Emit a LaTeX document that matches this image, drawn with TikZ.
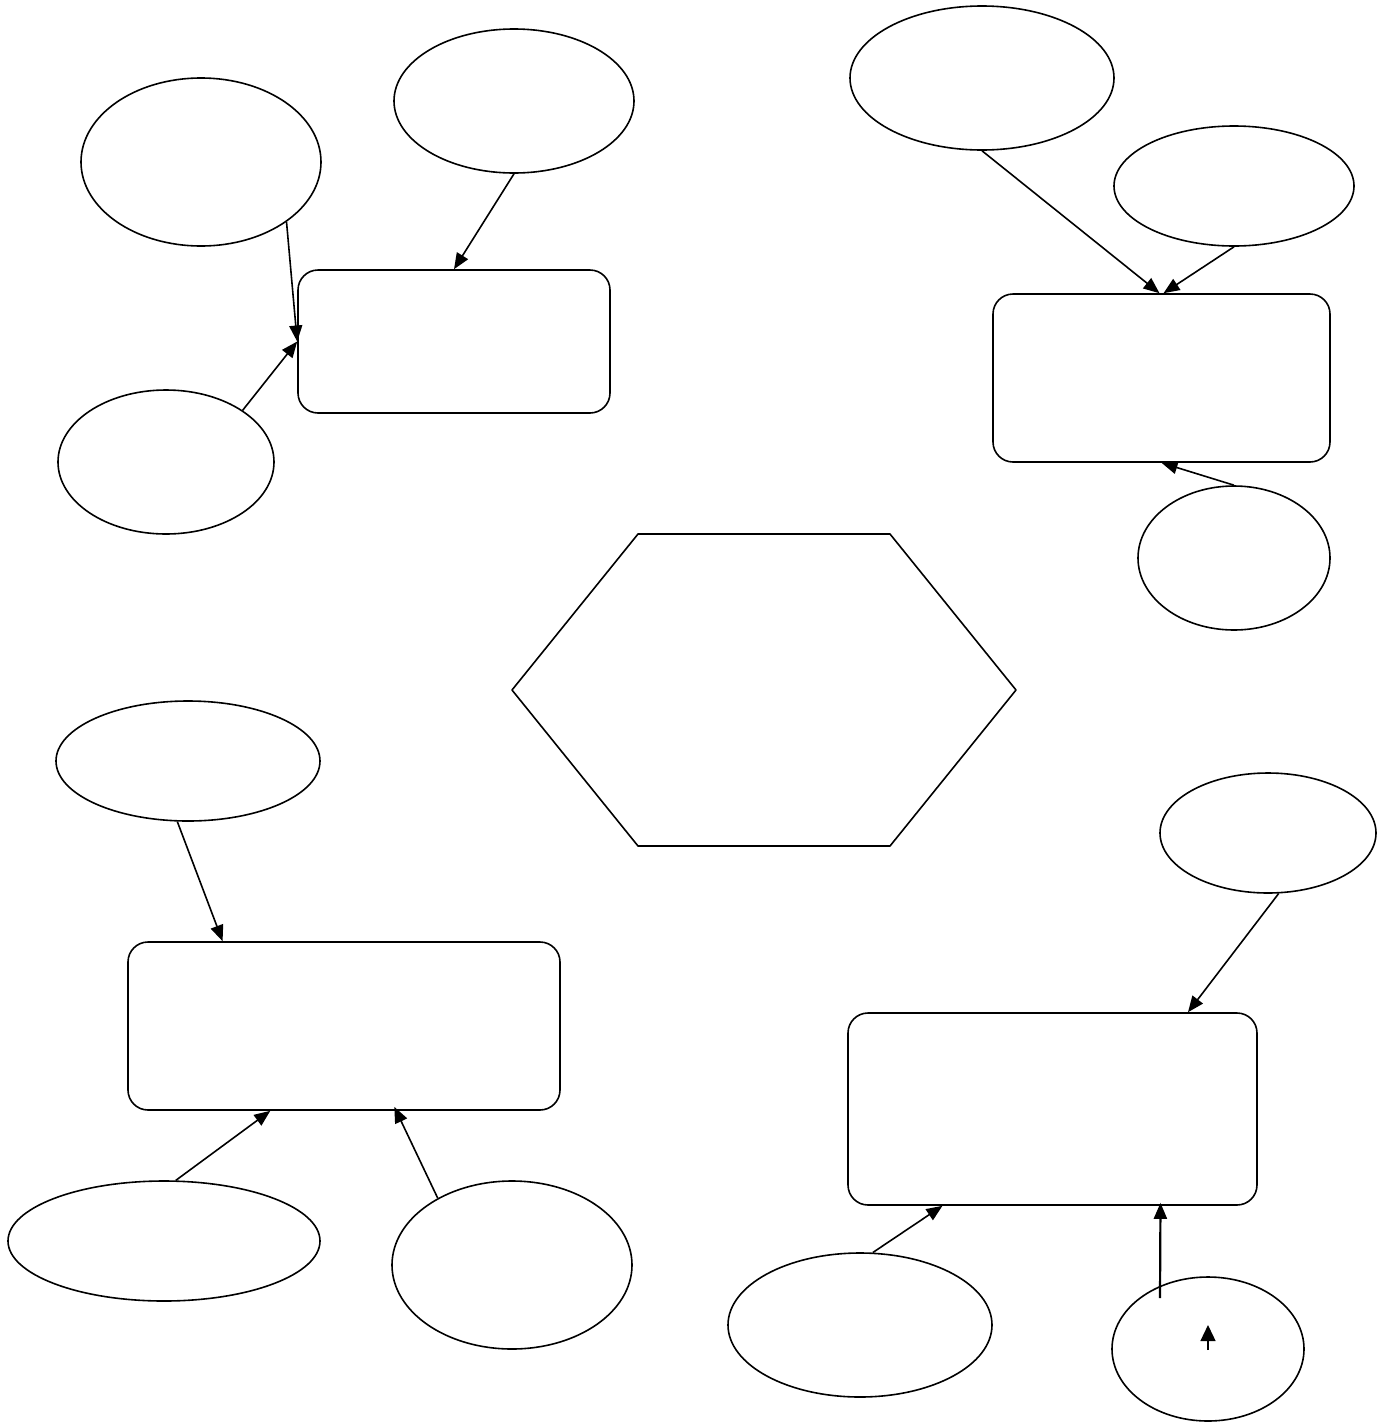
\documentclass[tikz,border=0pt]{standalone}
\usetikzlibrary{shapes.geometric,arrows.meta,calc}
\begin{document}
\begin{tikzpicture}[x=1pt,y=-1pt,line join=round,line width=1.6pt,>={Triangle[length=16pt,width=13pt]}]
\tikzset{oval/.style={draw,ellipse,inner sep=0pt},
box/.style={draw,rectangle,rounded corners=20pt,inner sep=0pt}}
\useasboundingbox (0,0) rectangle (1382,1422);
% top left
\node[box,minimum width=312,minimum height=143] (bA) at (454,341.5) {};
\node[oval,minimum width=240,minimum height=168] (e1) at (201,162) {};
\node[oval,minimum width=240,minimum height=144] (e2) at (514,101) {};
\node[oval,minimum width=216,minimum height=144] (e3) at (166,462) {};
\draw[->] (e1.-35)--(bA.west);
\draw[->] (e2.south)--(bA.north);
\draw[->] (e3.34)--(bA.west);
% top right
\node[box,minimum width=337,minimum height=168] (bB) at (1161.5,378) {};
\node[oval,minimum width=264,minimum height=144] (e4) at (982,78) {};
\node[oval,minimum width=240,minimum height=120] (e5) at (1234,186) {};
\node[oval,minimum width=192,minimum height=144] (e6) at (1234,558) {};
\draw[->] (e4.south)--([xshift=-2]bB.north);
\draw[->] (e5.south)--([xshift=2]bB.north);
\draw[->] (e6.north)--(bB.south);
% centre
\draw (638,534)--(890,534)--(1016,690)--(890,846)--(638,846)--(512,690)--cycle;
% bottom left
\node[box,minimum width=432,minimum height=168] (bC) at (344,1026) {};
\node[oval,minimum width=264,minimum height=120] (e7) at (188,761) {};
\node[oval,minimum width=312,minimum height=120] (e8) at (164,1241) {};
\node[oval,minimum width=240,minimum height=168] (e9) at (512,1265) {};
\draw[->] (e7.-100)--($(bC.north west)!0.22!(bC.north east)$);
\draw[->] (e8.79)--($(bC.south west)!0.33!(bC.south east)$);
\draw[->] (e9.138)--([yshift=4]$(bC.south west)!0.616!(bC.south east)$);
% bottom right
\node[box,minimum width=409,minimum height=192] (bD) at (1052.5,1109) {};
\node[oval,minimum width=216,minimum height=120] (e10) at (1268,833) {};
\node[oval,minimum width=264,minimum height=144] (e11) at (860,1325) {};
\node[oval,minimum width=192,minimum height=144] (e12) at (1208,1349) {};
\coordinate (s12) at (1160,1298);
\coordinate (m1) at (1208,1350);
\coordinate (m2) at (1208,1325);
\draw[->] (e10.-80)--($(bD.north west)!0.83!(bD.north east)$);
\draw[->] (e11.80)--($(bD.south west)!0.232!(bD.south east)$);
\draw[->,line width=2.2pt] (s12)--([yshift=3]$(bD.south west)!0.763!(bD.south east)$);
\draw[-{Triangle[length=16pt,width=15pt]},line width=1.4pt] (m1)--(m2);
\end{tikzpicture}
\end{document}
